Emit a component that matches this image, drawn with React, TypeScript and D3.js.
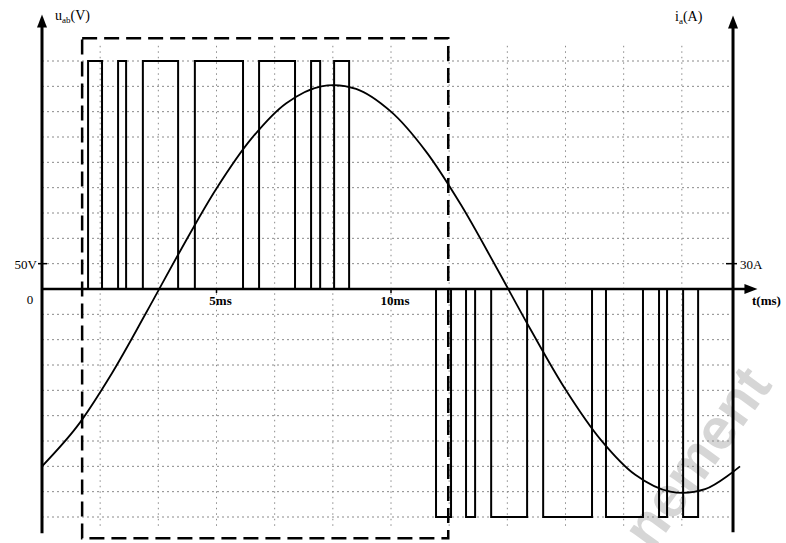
import React from "react";
import * as d3 from "d3";

// Voltage pulse train u_ab (V): pulse start / end times (ms)
const posOn = [1.32, 2.18, 2.89, 4.38, 6.22, 7.71, 8.37];
const posOff = [1.72, 2.41, 3.9, 5.76, 7.25, 7.97, 8.8];
const negOn = [11.29, 12.15, 12.87, 14.36, 16.16, 17.68, 18.37];
const negOff = [11.72, 12.41, 13.9, 15.76, 17.22, 17.91, 18.8];
const pulseLevel = 450; // V

// Phase current i_a (A), read at 1 ms steps
const curT = [0, 1, 2, 3, 4, 5, 6, 7, 8, 9, 10, 11, 12, 13, 14, 15, 16, 17, 18, 19, 20];
const curI = [-210, -163, -100, -27, 48, 119, 178, 220, 240, 237, 210, 163, 100, 27, -48, -119, -178, -220, -240, -237, -210];

// Axis tick labels
const xTicks = [
  { t: 5, label: "5ms" },
  { t: 10, label: "10ms" },
];
const vTick = { v: 50, label: "50V" };
const iTick = { i: 30, label: "30A" };

// Dashed region (ms, V)
const boxT = [1.15, 11.64];
const boxV = [-492, 495];

const W = 786;
const H = 543;

export default function App() {
  const x = d3.scaleLinear().domain([0, 20]).range([42, 740]);
  const yV = d3.scaleLinear().domain([-450, 450]).range([517, 61]);
  const yI = d3.scaleLinear().domain([-270, 270]).range([517, 61]);

  const x0 = x(0);
  const xR = x(19.8);
  const y0 = yV(0);

  const vGrid = d3.range(1, 12).map((k) => (k * 5) / 3);
  const hGrid = d3.range(-9, 10).filter((k) => k !== 0).map((k) => k * 50);

  const pulsePath = (ons: number[], offs: number[], lvl: number) =>
    ons
      .map(
        (on, i) =>
          `M${x(on)},${y0}L${x(on)},${yV(lvl)}L${x(offs[i])},${yV(lvl)}L${x(offs[i])},${y0}`
      )
      .join("");

  const curLine = d3
    .line<number>()
    .x((_, i) => x(curT[i]))
    .y((d) => yI(d))
    .curve(d3.curveCatmullRom.alpha(0.5));

  const font = "'Liberation Serif', 'DejaVu Serif', serif";

  const arrowUp = (cx: number, tip: number) =>
    `M${cx},${tip}L${cx - 5},${tip + 13}L${cx + 5},${tip + 13}Z`;

  const xTip = x(20.5);

  return (
    <svg
      width={W}
      height={H}
      style={{ position: "absolute", left: 0, top: 0, background: "#fff" }}
      fontFamily={font}
    >
      <rect width={W} height={H} fill="#fff" />
      {/* watermark */}
      <text
        transform={`translate(652,552) rotate(-54)`}
        fontFamily="'Liberation Sans', Arial, sans-serif"
        fontWeight="bold"
        fontSize={58}
        fill="#d6d6d6"
      >
        nement
      </text>

      {/* grid */}
      <g stroke="#8a8a8a" strokeWidth={1}>
        {hGrid.map((v) => (
          <line key={"h" + v} x1={x0} x2={xR} y1={yV(v)} y2={yV(v)} strokeDasharray="2,3" />
        ))}
        {vGrid.map((t) => (
          <line key={"v" + t} x1={x(t)} x2={x(t)} y1={yV(480)} y2={yV(-470)} strokeDasharray="1.5,4" />
        ))}
      </g>

      {/* dashed region */}
      <rect
        x={x(boxT[0])}
        y={yV(boxV[1])}
        width={x(boxT[1]) - x(boxT[0])}
        height={yV(boxV[0]) - yV(boxV[1])}
        fill="none"
        stroke="#000"
        strokeWidth={2.5}
        strokeDasharray="15,7"
      />

      {/* pulses */}
      <path d={pulsePath(posOn, posOff, pulseLevel)} fill="none" stroke="#000" strokeWidth={2} />
      <path d={pulsePath(negOn, negOff, -pulseLevel)} fill="none" stroke="#000" strokeWidth={2} />

      {/* current */}
      <path d={curLine(curI) || ""} fill="none" stroke="#000" strokeWidth={1.8} />

      {/* axes */}
      <line x1={x0} x2={x0} y1={yV(-482)} y2={yV(520)} stroke="#000" strokeWidth={3} />
      <path d={arrowUp(x0, yV(542))} fill="#000" />
      <line x1={xR} x2={xR} y1={yV(-480)} y2={yV(518)} stroke="#000" strokeWidth={3} />
      <path d={arrowUp(xR, yV(540))} fill="#000" />
      <line x1={x0} x2={xTip - 10} y1={y0} y2={y0} stroke="#000" strokeWidth={2.5} />
      <path d={`M${xTip},${y0}L${xTip - 13},${y0 - 5}L${xTip - 13},${y0 + 5}Z`} fill="#000" />

      {/* ticks */}
      <line x1={x0 - 4} x2={x0 + 5} y1={yV(vTick.v)} y2={yV(vTick.v)} stroke="#000" strokeWidth={1.5} />
      <line x1={xR - 7} x2={xR + 4} y1={yI(iTick.i)} y2={yI(iTick.i)} stroke="#000" strokeWidth={1.5} />
      {xTicks.map((d) => (
        <line key={d.label} x1={x(d.t)} x2={x(d.t)} y1={y0} y2={y0 + 4} stroke="#000" strokeWidth={1.5} />
      ))}

      {/* labels */}
      <g fill="#000" fontSize={13}>
        <text x={x0 - 5} y={yV(vTick.v) + 5} textAnchor="end">{vTick.label}</text>
        <text x={xR + 7} y={yI(iTick.i) + 5}>{iTick.label}</text>
        <text x={x0 - 12} y={y0 + 15} textAnchor="middle">0</text>
        {xTicks.map((d) => (
          <text key={d.label} x={x(d.t) + 4} y={y0 + 16} textAnchor="middle" fontWeight="bold">
            {d.label}
          </text>
        ))}
        <text x={752} y={y0 + 16} fontWeight="bold">t(ms)</text>
        <text x={55} y={20} fontSize={14}>
          <tspan>u</tspan>
          <tspan fontSize={9} dy={3}>ab</tspan>
          <tspan dy={-3}>(V)</tspan>
        </text>
        <text x={675} y={21} fontSize={14}>
          <tspan>i</tspan>
          <tspan fontSize={9} dy={3}>a</tspan>
          <tspan dy={-3}>(A)</tspan>
        </text>
      </g>
    </svg>
  );
}
